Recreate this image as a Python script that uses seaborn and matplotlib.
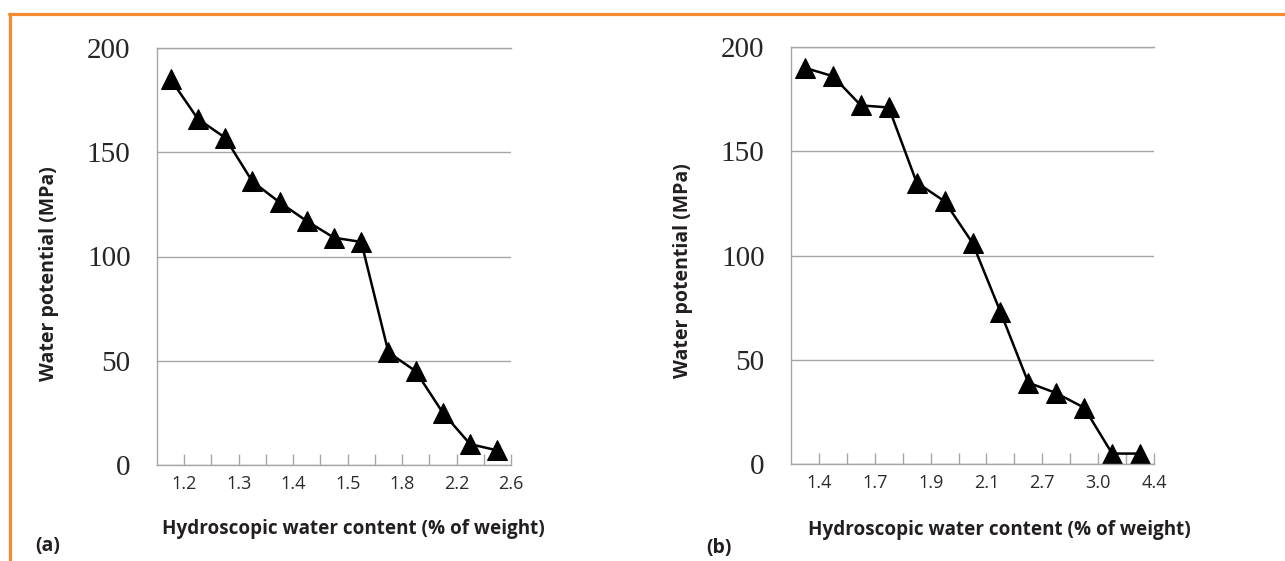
import numpy as np
import pandas as pd
import matplotlib
matplotlib.use('Agg')
import matplotlib.pyplot as plt
import seaborn as sns
from matplotlib.lines import Line2D

# values (13 points each, evenly spaced categories)
potential_a = [185, 166, 157, 136, 126, 117, 109, 107, 54, 45, 25, 10, 7]
potential_b = [190, 186, 172, 171, 135, 126, 106, 73, 39, 34, 27, 5, 5]
xlabels_a = ['1.2', '1.3', '1.4', '1.5', '1.8', '2.2', '2.6']
xlabels_b = ['1.4', '1.7', '1.9', '2.1', '2.7', '3.0', '4.4']
yticks = [0, 50, 100, 150, 200]

sns.set_style('white')

fig = plt.figure(figsize=(12.85, 5.61), dpi=100)
W, H = 1285, 561

def px_axes(left, top, right, bottom):
    return fig.add_axes([left / W, 1 - bottom / H, (right - left) / W, (bottom - top) / H])

grey = '#a6a6a6'

def draw_panel(ax, values, labels):
    df = pd.DataFrame({'pos': np.arange(len(values)), 'val': values})
    sns.lineplot(data=df, x='pos', y='val', ax=ax, color='black', linewidth=1.8,
                 marker='^', markersize=14, markeredgecolor='black', markerfacecolor='black')
    n = len(values)
    ax.set_xlim(-0.5, n - 0.5)
    ax.set_ylim(0, 200)
    ax.set_yticks(yticks)
    ax.set_yticklabels([str(t) for t in yticks], fontfamily='Liberation Serif', fontsize=21)
    ax.set_xticks(np.arange(0.5, n, 2))
    ax.set_xticks(np.arange(1.5, n - 1, 2), minor=True)
    ax.set_xticklabels(labels, fontfamily='Open Sans', fontsize=13, color='#2b2b2b')
    ax.tick_params(axis='y', length=0, pad=19)
    ax.tick_params(axis='x', which='both', direction='in', length=8, width=1,
                   color=grey, pad=7, bottom=True)
    ax.yaxis.grid(True, color=grey, linewidth=1)
    ax.xaxis.grid(False)
    ax.spines['right'].set_visible(False)
    for s in ['left', 'bottom', 'top']:
        ax.spines[s].set_color(grey)
        ax.spines[s].set_linewidth(1)
    ax.set_xlabel('')
    ax.set_ylabel('')

ax_a = px_axes(157, 48, 511, 465)
ax_b = px_axes(791, 47, 1154, 464)
draw_panel(ax_a, potential_a, xlabels_a)
draw_panel(ax_b, potential_b, xlabels_b)

lab = dict(fontfamily='Open Sans', fontweight='bold', color='#231f20')
fig.text(49 / W, 1 - 274 / H, 'Water potential (MPa)', rotation=90,
         ha='center', va='center', fontsize=14, **lab)
fig.text(683 / W, 1 - 271 / H, 'Water potential (MPa)', rotation=90,
         ha='center', va='center', fontsize=14, **lab)
fig.text(353 / W, 1 - 529 / H, 'Hydroscopic water content (% of weight)',
         ha='center', va='center', fontsize=13.6, **lab)
fig.text(999 / W, 1 - 530 / H, 'Hydroscopic water content (% of weight)',
         ha='center', va='center', fontsize=13.6, **lab)
fig.text(48 / W, 1 - 546 / H, '(a)', ha='center', va='center', fontsize=14, **lab)
fig.text(719 / W, 1 - 548 / H, '(b)', ha='center', va='center', fontsize=14, **lab)

# orange frame along top and left
orange = '#f7892f'
fig.add_artist(Line2D([9 / W, 1], [1 - 14 / H, 1 - 14 / H], color=orange, linewidth=2.3,
                      transform=fig.transFigure))
fig.add_artist(Line2D([10 / W, 10 / W], [0, 1 - 14 / H], color=orange, linewidth=2.3,
                      transform=fig.transFigure))

fig.savefig('out.png', dpi=100)
